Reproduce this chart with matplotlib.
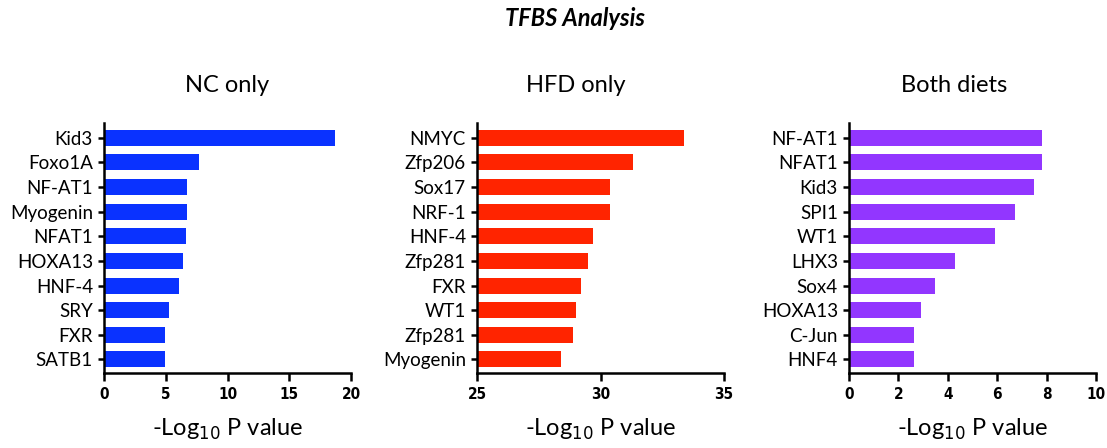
import matplotlib.pyplot as plt
import matplotlib.font_manager as fm

# NC only panel
nc_labels = ["Kid3", "Foxo1A", "NF-AT1", "Myogenin", "NFAT1", "HOXA13", "HNF-4", "SRY", "FXR", "SATB1"]
nc_values = [18.7, 7.7, 6.7, 6.7, 6.6, 6.4, 6.1, 5.3, 4.95, 4.92]

# HFD only panel
hfd_labels = ["NMYC", "Zfp206", "Sox17", "NRF-1", "HNF-4", "Zfp281", "FXR", "WT1", "Zfp281", "Myogenin"]
hfd_values = [33.4, 31.3, 30.4, 30.4, 29.7, 29.5, 29.2, 29.0, 28.9, 28.4]

# Both diets panel
both_labels = ["NF-AT1", "NFAT1", "Kid3", "SPI1", "WT1", "LHX3", "Sox4", "HOXA13", "C-Jun", "HNF4"]
both_values = [7.82, 7.8, 7.47, 6.72, 5.92, 4.3, 3.5, 2.9, 2.62, 2.62]

panels = [
    ("NC only", nc_labels, nc_values, "#0A32FF", (0, 20), [0, 5, 10, 15, 20], 0, 0.5),
    ("HFD only", hfd_labels, hfd_values, "#FF2400", (25, 35), [25, 30, 35], 25, 0.40),
    ("Both diets", both_labels, both_values, "#9236FF", (0, 10), [0, 2, 4, 6, 8, 10], 0, 0.425),
]

names = {f.name for f in fm.fontManager.ttflist}
label_font = "Lato" if "Lato" in names else "DejaVu Sans"

fig = plt.figure(figsize=(11.07, 4.48), dpi=100)
W, H = 1107, 448
lefts = [104, 477, 849]
width = 247
top, bottom = 123, 373

for (title, labels, values, color, xlim, ticks, base, tx), left in zip(panels, lefts):
    ax = fig.add_axes([left / W, 1 - bottom / H, width / W, (bottom - top) / H])
    y = list(range(len(labels)))
    ax.barh(y, [v - base for v in values], left=base, height=0.65, color=color)
    ax.set_ylim(len(labels) - 0.45, -0.6)
    ax.set_xlim(*xlim)
    ax.set_xticks(ticks)
    ax.set_xticklabels([str(t) for t in ticks], fontfamily="DejaVu Sans", fontstretch="condensed",
                       fontweight="bold", fontsize=11)
    ax.set_yticks(y)
    ax.set_yticklabels(labels, fontfamily=label_font, fontsize=13.5)
    ax.spines["top"].set_visible(False)
    ax.spines["right"].set_visible(False)
    ax.spines["left"].set_linewidth(1.8)
    ax.spines["bottom"].set_linewidth(1.8)
    ax.tick_params(axis="x", direction="out", length=6, width=1.8, pad=4)
    ax.tick_params(axis="y", direction="out", length=4, width=1.8, pad=4)
    ax.text(tx, 1 + 38 / (bottom - top), title, transform=ax.transAxes, ha="center", va="center",
            fontfamily=label_font, fontsize=17)
    ax.set_xlabel("-Log$_{10}$ P value", fontfamily=label_font, fontsize=17, labelpad=11)

fig.text(575 / W, 1 - 18 / H, "TFBS Analysis", ha="center", va="center",
         fontfamily=label_font, fontsize=17, fontweight="bold", fontstyle="italic")

fig.savefig("out.png", dpi=100)
